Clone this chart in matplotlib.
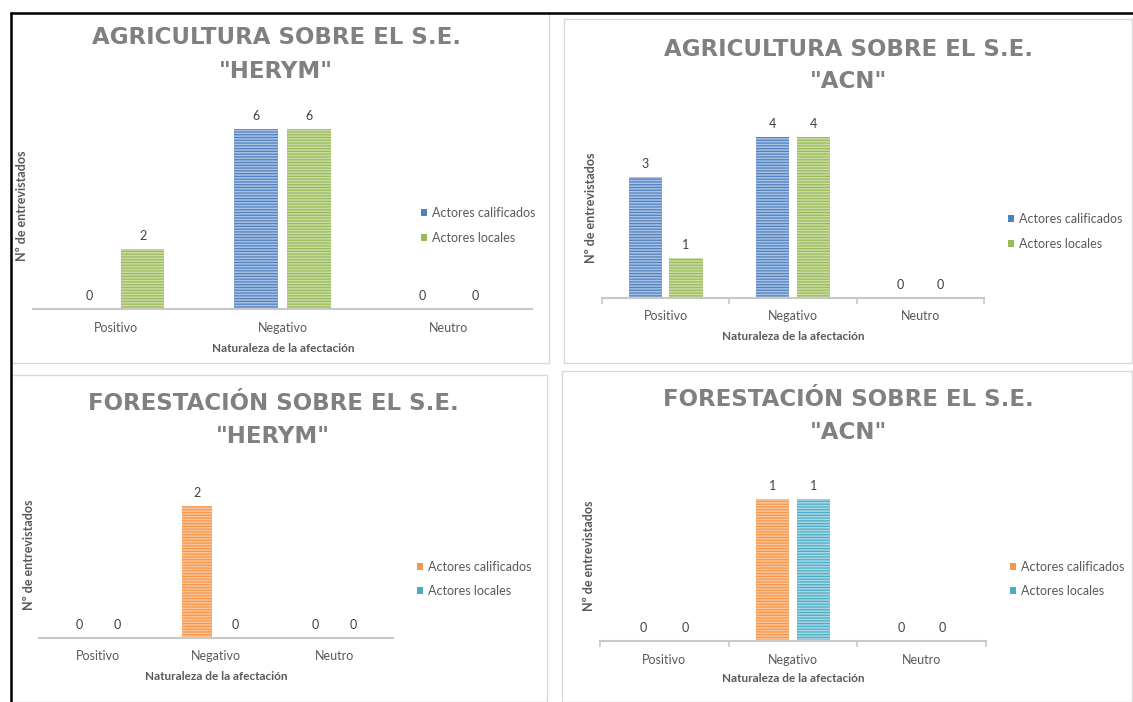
import matplotlib
matplotlib.use("Agg")
from matplotlib import pyplot as plt
from matplotlib.patches import Patch
import numpy as np

# data
categorias = ["Positivo", "Negativo", "Neutro"]
series = ["Actores calificados", "Actores locales"]

agr_herym_calificados = [0, 6, 0]
agr_herym_locales = [2, 6, 0]
agr_acn_calificados = [3, 4, 0]
agr_acn_locales = [1, 4, 0]
for_herym_calificados = [0, 2, 0]
for_herym_locales = [0, 0, 0]
for_acn_calificados = [0, 1, 0]
for_acn_locales = [0, 1, 0]

titulos = [
    ("AGRICULTURA SOBRE EL S.E.", '"HERYM"'),
    ("AGRICULTURA SOBRE EL S.E.", '"ACN"'),
    ("FORESTACIÓN SOBRE EL S.E.", '"HERYM"'),
    ("FORESTACIÓN SOBRE EL S.E.", '"ACN"'),
]

W, H = 1133, 702
plt.rcParams['hatch.linewidth'] = 0.9

fig = plt.figure(figsize=(W / 100, H / 100), dpi=100)

# background axes in pixel coords for panel frames
bg = fig.add_axes([0, 0, 1, 1], zorder=-5)
bg.set_xlim(0, W)
bg.set_ylim(H, 0)
bg.axis('off')
frames = [(11, 13, 549, 363), (564, 19, 1132, 363), (11, 375, 547, 702), (562, 371, 1132, 702)]
for x0, y0, x1, y1 in frames:
    bg.plot([x0, x1, x1, x0, x0], [y0, y0, y1, y1, y0], color='#d9d9d9', lw=1)
bg.plot([10, W], [12.5, 12.5], color='black', lw=1.8, solid_capstyle='butt')
bg.plot([10.5, 10.5], [12, H], color='black', lw=1.8, solid_capstyle='butt')


def px_rect(left, right, base, top):
    return [left / W, 1 - base / H, (right - left) / W, (base - top) / H]


azul = ('#a9c1e4', '#4f81bd')
verde = ('#c9dca5', '#9bbb59')
naranja = ('#fbc49a', '#f79646')
celeste = ('#a9d7e4', '#4bacc6')

paneles = [
    # (values a, values b, colors, left, right, baseline, px per unit, ymax, ticks,
    #  title x, title y1, title y2, ylabel pos, xlabel pos, legend pos)
    (agr_herym_calificados, agr_herym_locales, (azul, verde), 33, 532, 309, 30, 7, False,
     276, 38, 72, (22, 206), (283, 348), (421, 225.5)),
    (agr_acn_calificados, agr_acn_locales, (azul, verde), 602, 984, 298, 40.2, 5, True,
     848, 49, 82, (591, 208), (793, 337), (1008, 231.5)),
    (for_herym_calificados, for_herym_locales, (naranja, celeste), 39, 393, 638, 66, 3, False,
     273, 403, 436, (29, 555), (216, 676), (417, 579)),
    (for_acn_calificados, for_acn_locales, (naranja, celeste), 600, 986, 641, 142, 1.3, True,
     848, 400, 433, (589, 556), (793, 679), (1010, 579)),
]

x = np.arange(len(categorias))
ancho = 0.26
sep = 0.16

for i, p in enumerate(paneles):
    (va, vb, cols, left, right, base, ppu, ymax, ticks,
     tx, ty1, ty2, ylab, xlab, legpos) = p
    top = base - ymax * ppu
    ax = fig.add_axes(px_rect(left, right, base, top))
    ax.set_xlim(-0.5, 2.5)
    ax.set_ylim(0, ymax)

    for vals, off, (fc, ec) in zip([va, vb], [-sep, sep], cols):
        bars = ax.bar(x + off, vals, ancho, facecolor=fc, edgecolor=ec,
                      hatch='------', linewidth=0)
        ax.bar_label(bars, padding=5, fontsize=9, color='#404040', family='Lato')

    for s in ['top', 'right', 'left']:
        ax.spines[s].set_visible(False)
    ax.spines['bottom'].set_color('#c8c8c8')
    ax.spines['bottom'].set_linewidth(1.5)
    ax.set_yticks([])
    ax.set_xticks(x)
    ax.set_xticklabels(categorias, fontsize=9, color='#595959', family='Lato')
    ax.tick_params(axis='x', which='major', length=0, pad=9)
    if ticks:
        ax.set_xticks([-0.5, 0.5, 1.5, 2.5], minor=True)
        ax.tick_params(axis='x', which='minor', length=4, width=1.2, color='#c8c8c8')

    # titles
    for ty, txt in [(ty1, titulos[i][0]), (ty2, titulos[i][1])]:
        fig.text(tx / W, 1 - ty / H, txt, ha='center', va='center',
                 fontsize=16.5, fontweight='bold', color='#808080', family='DejaVu Sans')

    fig.text(ylab[0] / W, 1 - ylab[1] / H, 'Nº de entrevistados', rotation=90,
             ha='center', va='center', fontsize=9, fontweight='bold',
             color='#595959', family='Lato')
    fig.text(xlab[0] / W, 1 - xlab[1] / H, 'Naturaleza de la afectación',
             ha='center', va='center', fontsize=8.5, fontweight='bold',
             color='#595959', family='Lato')

    handles = [Patch(facecolor=c[1], edgecolor='none') for c in cols]
    ax.legend(handles, series, loc='center left',
              bbox_to_anchor=(legpos[0] / W, 1 - legpos[1] / H),
              bbox_transform=fig.transFigure, frameon=False,
              handlelength=0.5, handleheight=0.5, handletextpad=0.35,
              borderpad=0, borderaxespad=0, labelspacing=1.0,
              prop={'family': 'Lato', 'size': 9}, labelcolor='#595959')

fig.savefig('out.png', dpi=100)
